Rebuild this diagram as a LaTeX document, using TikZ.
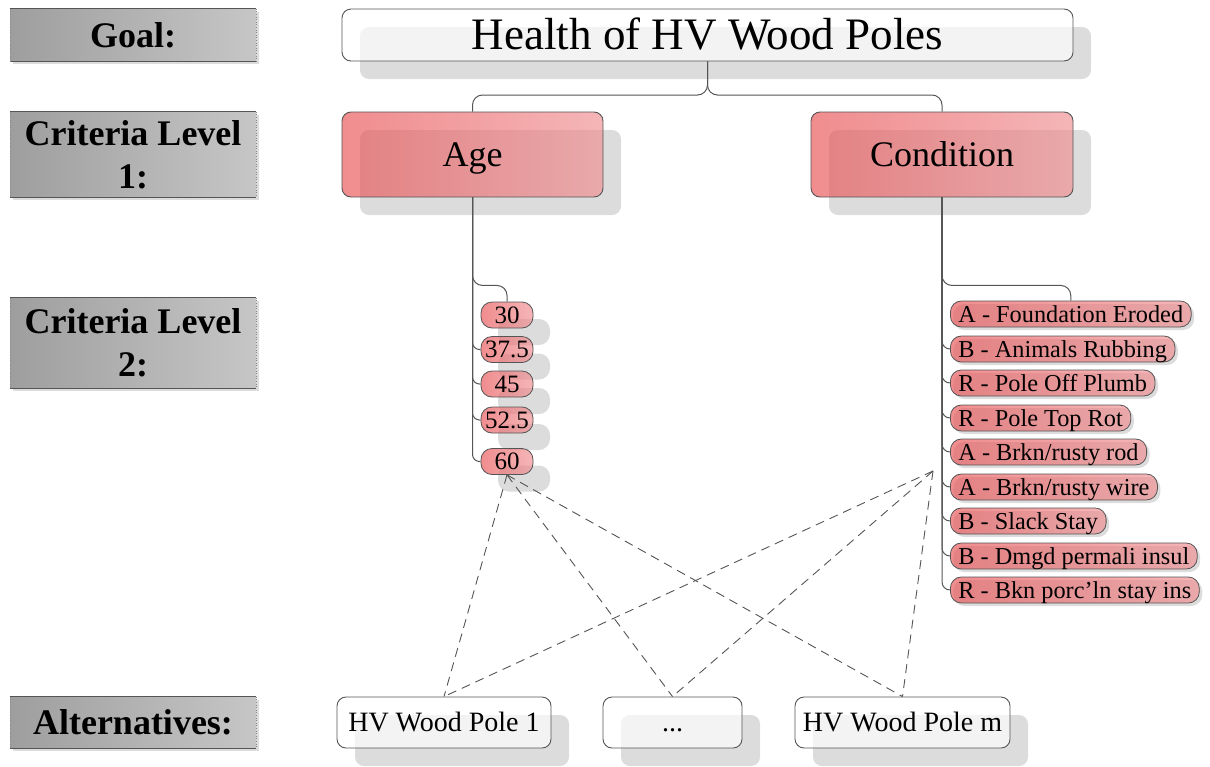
\documentclass[tikz,border=0pt]{standalone}
\usepackage{fontspec}
\setmainfont{Liberation Serif}
\usetikzlibrary{shadows,calc}
\definecolor{edge}{RGB}{85,85,85}
\definecolor{pinkL}{RGB}{232,81,84}
\definecolor{pinkR}{RGB}{240,143,146}
\definecolor{shadegray}{RGB}{220,220,220}
\definecolor{lvlL}{RGB}{158,158,158}
\definecolor{lvlR}{RGB}{198,198,198}
\begin{document}
\begin{tikzpicture}[x=1pt,y=-1pt,
  bigshadow/.style={drop shadow={shadow xshift=18pt,shadow yshift=-18pt,fill=shadegray,opacity=1}},
  midshadow/.style={drop shadow={shadow xshift=17pt,shadow yshift=-17pt,fill=shadegray,opacity=1}},
  smallshadow/.style={drop shadow={shadow xshift=3pt,shadow yshift=-3pt,fill=shadegray,opacity=1}},
  whitebox/.style={draw=edge,line width=0.9pt,rounded corners=9pt,fill=white,fill opacity=0.66,text opacity=1,bigshadow,inner sep=0pt},
  pinkbox/.style={draw=edge,line width=0.9pt,rounded corners=9pt,left color=pinkL,right color=pinkR,fill opacity=0.66,text opacity=1,bigshadow,inner sep=0pt,
    font=\fontsize{36}{40}\selectfont,text height=24pt,text depth=0pt},
  agebox/.style={draw=edge,line width=0.8pt,rounded corners=11pt,left color=pinkL,right color=pinkR,fill opacity=0.66,text opacity=1,midshadow,minimum width=52pt,minimum height=26pt,inner sep=1pt,font=\fontsize{25}{28}\selectfont,text height=16.5pt,text depth=0pt},
  condbox/.style={draw=edge,line width=0.8pt,rounded corners=11pt,left color=pinkL,right color=pinkR,fill opacity=0.66,text opacity=1,smallshadow,minimum height=26pt,inner xsep=8pt,inner ysep=1pt,anchor=west,font=\fontsize{24.3}{27}\selectfont,text height=16pt,text depth=0pt},
  altbox/.style={whitebox,minimum height=51pt,font=\fontsize{28}{32}\selectfont,text height=18.5pt,text depth=0pt},
  lvlbox/.style={left color=lvlL,right color=lvlR,minimum width=246pt,inner sep=0pt,align=center,
    font=\fontsize{36}{43}\selectfont\bfseries,smallshadow},
  conn/.style={draw=edge,line width=1pt,rounded corners=10pt},
  dashln/.style={draw=edge,line width=0.9pt,dash pattern=on 9pt off 6pt}
]
\useasboundingbox (0,0) rectangle (1210,766);

% level labels on the left
\node[lvlbox,minimum height=52pt] (lg) at (133,35) {Goal:};
\node[lvlbox,minimum height=85pt] (l1) at (133,154.5) {Criteria Level\\1:};
\node[lvlbox,minimum height=90pt] (l2) at (133,343) {Criteria Level\\2:};
\node[lvlbox,minimum height=51pt] (la) at (133,722.5) {Alternatives:};
\foreach \n in {lg,l1,l2,la}{
  \draw[edge,line width=1pt] (\n.north west) -- (\n.north east);
  \draw[edge,line width=1pt] (\n.south west) -- (\n.south east);
  \draw[edge!70,line width=0.6pt,dotted] (\n.north west) -- (\n.south west);
  \draw[edge!70,line width=0.6pt,dotted] (\n.north east) -- (\n.south east);
}

% goal
\node[whitebox,minimum width=731pt,minimum height=52pt,font=\fontsize{45}{50}\selectfont,text height=29pt,text depth=0pt] (goal) at (707.5,35) {Health of HV Wood Poles};

% criteria level 1
\node[pinkbox,minimum width=261pt,minimum height=85pt] (age) at (472.5,154.5) {Age};
\node[pinkbox,minimum width=262pt,minimum height=85pt] (cond) at (942,154.5) {Condition};

\coordinate (split) at (707.5,95);
\draw[conn] (goal.south) -- (split) -| (age.north);
\draw[conn] (goal.south) -- (split) -| (cond.north);

% age sub-criteria
\node[agebox] (a1) at (507,315) {30};
\node[agebox] (a2) at (507,349.5) {37.5};
\node[agebox] (a3) at (507,384) {45};
\node[agebox] (a4) at (507,420) {52.5};
\node[agebox] (a5) at (507,461.5) {60};

% condition sub-criteria
\node[condbox] (c1) at (950,314) {A - Foundation Eroded};
\node[condbox] (c2) at (950,349) {B - Animals Rubbing};
\node[condbox] (c3) at (950,383) {R - Pole Off Plumb};
\node[condbox] (c4) at (950,418) {R - Pole Top Rot};
\node[condbox] (c5) at (950,452) {A - Brkn/rusty rod};
\node[condbox] (c6) at (950,487) {A - Brkn/rusty wire};
\node[condbox] (c7) at (950,521) {B - Slack Stay};
\node[condbox] (c8) at (950,556) {B - Dmgd permali insul};
\node[condbox] (c9) at (950,590) {R - Bkn porc{\char"0027}ln stay ins};

\draw[conn] (age.south) -- ++(0,88) -| (a1.north);
\foreach \i in {2,...,5}{\draw[conn,rounded corners=7pt] (age.south) |- (a\i.west);}
\draw[conn] (cond.south) -- ++(0,88) -| (c1.north);
\foreach \i in {2,...,9}{\draw[conn,rounded corners=8pt] (cond.south) |- (c\i.west);}

% alternatives
\node[altbox,minimum width=214pt] (alt1) at (444,722.5) {HV Wood Pole 1};
\node[altbox,minimum width=139pt] (altd) at (672.5,722.5) {...};
\node[altbox,minimum width=215pt] (altm) at (902.5,722.5) {HV Wood Pole m};

% links between criteria and alternatives
\coordinate (cpt) at (933,471);
\foreach \t in {alt1,altd,altm}{
  \draw[dashln] (a5.south) -- (\t.north);
  \draw[dashln] (cpt) -- (\t.north);
}
\end{tikzpicture}
\end{document}
